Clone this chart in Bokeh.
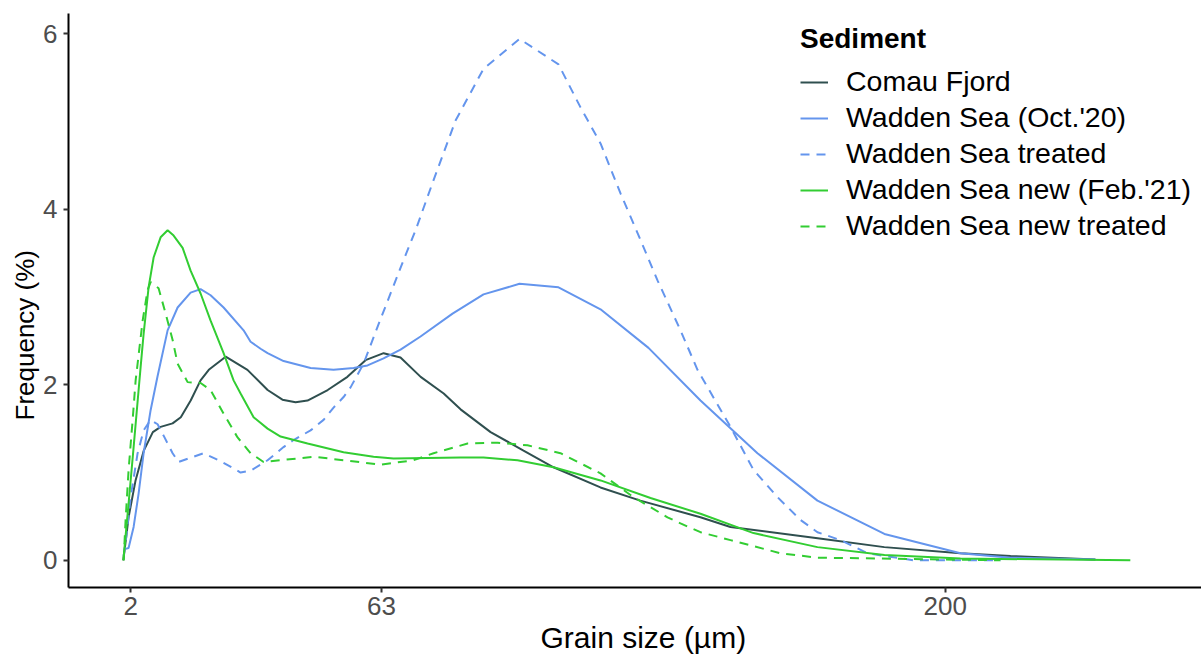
from bokeh.plotting import figure
from bokeh.models import FixedTicker, Legend, LegendItem, Range1d, Title
from bokeh.embed import file_html
from bokeh.resources import INLINE

FONT = "Liberation Sans"

# Grain-size distributions (grain size in µm, frequency in %)
comau_x = [0.23, 1.5, 3.2, 5.2, 7.4, 9.3, 12.2, 14.2, 16.6, 19.0, 21.0, 25.1, 30.4, 35.3,
           38.9, 42.1, 45.0, 49.9, 54.7, 59.1, 63.5, 67.6, 72.5, 78.1, 82.2, 89.5, 97.5,
           104.8, 116.2, 125.9, 140.5, 147.8, 169.0, 185.2, 203.7, 215.9, 236.5]
comau_y = [0.0, 0.49, 0.91, 1.25, 1.46, 1.52, 1.56, 1.63, 1.82, 2.05, 2.17, 2.32, 2.17, 1.94,
           1.83, 1.80, 1.82, 1.94, 2.09, 2.28, 2.36, 2.31, 2.09, 1.90, 1.72, 1.46, 1.25,
           1.06, 0.83, 0.68, 0.49, 0.38, 0.25, 0.15, 0.08, 0.05, 0.01]

wadden_x = [0.78, 1.5, 2.73, 3.94, 5.16, 6.86, 8.56, 10.99, 13.42, 16.58, 19.01, 21.44, 24.6,
            29.46, 31.16, 33.59, 35.29, 39.18, 45.74, 51.33, 56.19, 59.59, 63.48, 67.61,
            72.47, 80.25, 87.78, 96.53, 106.01, 116.22, 127.88, 140.52, 154.37, 168.95,
            185.23, 203.7, 215.85, 236.51]
wadden_y = [0.13, 0.14, 0.38, 0.76, 1.22, 1.71, 2.1, 2.62, 2.88, 3.05, 3.09, 3.02, 2.88,
            2.62, 2.49, 2.41, 2.36, 2.27, 2.19, 2.17, 2.19, 2.22, 2.30, 2.40,
            2.55, 2.81, 3.03, 3.15, 3.11, 2.86, 2.42, 1.82, 1.22, 0.68,
            0.30, 0.08, 0.03, 0.01]

wadden_tr_x = [0.3, 0.78, 2.0, 3.7, 5.16, 6.86, 8.56, 10.02, 12.21, 13.66, 16.09, 19.74, 23.87,
               28.73, 31.16, 35.29, 39.18, 41.61, 45.74, 48.9, 51.33, 53.76, 55.46, 58.62,
               62.02, 65.18, 68.34, 71.26, 75.39, 80.98, 87.78, 96.53, 106.01, 111.36,
               116.22, 121.08, 125.94, 130.07, 135.66, 139.79, 147.81, 153.4, 159.23,
               164.82, 168.95, 174.54, 181.1, 192.28, 213.42]
wadden_tr_y = [0.05, 0.2, 0.72, 1.22, 1.48, 1.6, 1.55, 1.42, 1.22, 1.12, 1.16, 1.22, 1.13,
               1.0, 1.02, 1.14, 1.29, 1.37, 1.48, 1.6, 1.74, 1.86, 1.97, 2.24,
               2.66, 3.04, 3.42, 3.76, 4.30, 5.01, 5.6, 5.94, 5.65, 5.16,
               4.75, 4.18, 3.65, 3.19, 2.62, 2.17, 1.52, 1.03, 0.72,
               0.46, 0.32, 0.23, 0.08, 0.0, 0.0]

new_x = [0.23, 1.51, 2.73, 3.94, 4.43, 5.16, 6.37, 7.59, 9.29, 10.99, 12.45, 14.64, 16.58,
         19.01, 21.44, 24.6, 27.03, 28.73, 31.89, 35.29, 38.45, 45.01, 53.76, 61.05, 65.91,
         82.19, 87.78, 96.05, 104.8, 116.22, 128.37, 140.52, 153.4, 168.95, 185.23,
         203.7, 245.0]
new_y = [0.0, 0.65, 1.29, 1.94, 2.2, 2.58, 3.11, 3.45, 3.68, 3.76, 3.70, 3.56, 3.30,
         3.04, 2.73, 2.36, 2.05, 1.90, 1.63, 1.50, 1.41, 1.33, 1.23, 1.18, 1.16,
         1.17, 1.17, 1.14, 1.06, 0.91, 0.71, 0.53, 0.31, 0.15, 0.06,
         0.02, 0.0]

new_tr_x = [0.3, 0.78, 1.51, 2.49, 3.22, 4.92, 6.13, 6.86, 8.8, 10.51, 12.21, 13.42, 15.85,
            19.01, 21.44, 24.6, 28.0, 31.16, 34.32, 38.45, 46.47, 53.76, 62.75, 70.77,
            75.63, 83.9, 91.19, 98.48, 106.5, 116.22, 124.24, 132.5, 135.66, 140.52,
            147.81, 159.96, 168.95, 184.26, 213.42]
new_tr_y = [0.0, 0.46, 1.03, 1.6, 2.05, 2.73, 3.08, 3.17, 3.10, 2.81, 2.51, 2.24, 2.03,
            2.02, 1.94, 1.67, 1.40, 1.22, 1.12, 1.14, 1.18, 1.14, 1.09, 1.14,
            1.22, 1.33, 1.34, 1.31, 1.22, 0.99, 0.72, 0.49, 0.42, 0.32,
            0.23, 0.08, 0.03, 0.02, 0.0]

x_ticks = [2, 63, 200]
y_ticks = [0, 2, 4, 6]

DARK = "#2F4F4F"
BLUE = "#6495ED"
GREEN = "#32CD32"
DASH = "9 7"

p = figure(width=1201, height=654, output_backend="svg", toolbar_location=None,
           x_range=Range1d(-13.1, 262.3), y_range=Range1d(-0.31, 6.23),
           min_border_left=68, min_border_right=0, min_border_top=13, min_border_bottom=67)

p.background_fill_color = "white"
p.border_fill_color = "white"
p.outline_line_color = None
p.xgrid.visible = False
p.ygrid.visible = False

r1 = p.line(comau_x, comau_y, line_color=DARK, line_width=2)
r2 = p.line(wadden_x, wadden_y, line_color=BLUE, line_width=2)
r3 = p.line(wadden_tr_x, wadden_tr_y, line_color=BLUE, line_width=2, line_dash=DASH)
r4 = p.line(new_x, new_y, line_color=GREEN, line_width=2)
r5 = p.line(new_tr_x, new_tr_y, line_color=GREEN, line_width=2, line_dash=DASH)

for ax in (p.xaxis[0], p.yaxis[0]):
    ax.axis_line_color = "black"
    ax.axis_line_width = 2
    ax.major_tick_line_color = "#333333"
    ax.major_tick_line_width = 2
    ax.major_tick_in = 0
    ax.major_tick_out = 5
    ax.minor_tick_line_color = None
    ax.major_label_text_font = FONT
    ax.major_label_text_font_size = "26px"
    ax.major_label_text_color = "#4D4D4D"

p.xaxis[0].ticker = FixedTicker(ticks=x_ticks)
p.yaxis[0].ticker = FixedTicker(ticks=y_ticks)
p.xaxis[0].major_label_standoff = 4
p.yaxis[0].major_label_standoff = 6

# Axis titles, placed along the outer side panels
p.add_layout(Title(text="Grain size (µm)", align="left", offset=472, standoff=2,
                   text_font=FONT, text_font_size="30px", text_font_style="normal",
                   text_color="black"), "below")
p.add_layout(Title(text="Frequency (%)", align="left", offset=167, standoff=2,
                   text_font=FONT, text_font_size="26px", text_font_style="normal",
                   text_color="black"), "left")

legend = Legend(items=[
    LegendItem(label="Comau Fjord", renderers=[r1]),
    LegendItem(label="Wadden Sea (Oct.'20)", renderers=[r2]),
    LegendItem(label="Wadden Sea treated", renderers=[r3]),
    LegendItem(label="Wadden Sea new (Feb.'21)", renderers=[r4]),
    LegendItem(label="Wadden Sea new treated", renderers=[r5]),
], location="top_right")
legend.title = "Sediment"
legend.title_text_font = FONT
legend.title_text_font_size = "28px"
legend.title_text_font_style = "bold"
legend.title_text_color = "black"
legend.title_standoff = 10
legend.label_text_font = FONT
legend.label_text_font_size = "28.5px"
legend.label_text_color = "black"
legend.label_standoff = 18
legend.glyph_width = 28
legend.glyph_height = 30
legend.spacing = 3
legend.padding = 8
legend.margin = 2
legend.border_line_alpha = 0
legend.background_fill_alpha = 0
p.add_layout(legend)

open("out.html", "w").write(file_html(p, INLINE))
